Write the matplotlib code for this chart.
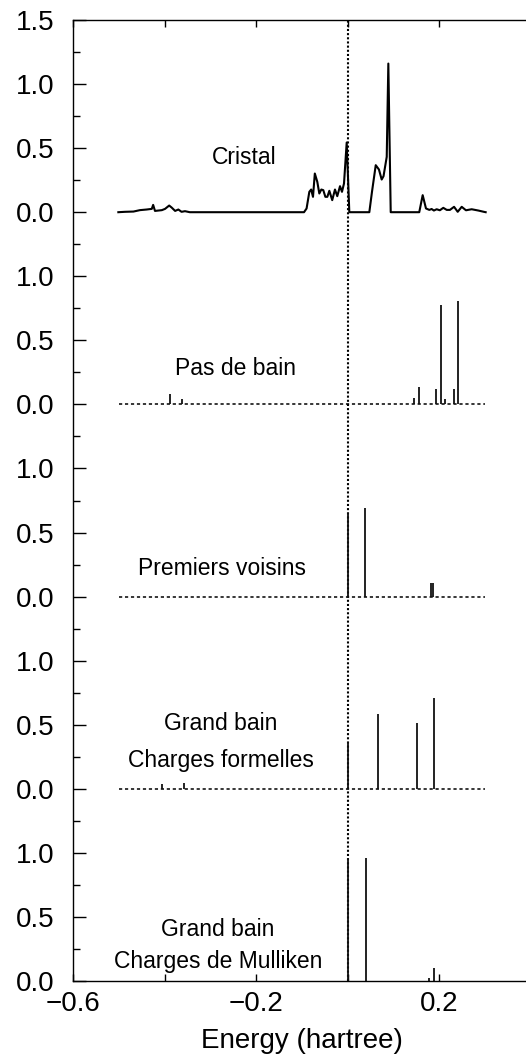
import numpy as np
import matplotlib.pyplot as plt
from matplotlib.ticker import FixedLocator, FixedFormatter

plt.rcParams['font.family'] = ['Liberation Sans', 'DejaVu Sans']
plt.rcParams['lines.scale_dashes'] = False

# Density of states of the crystal (energy in hartree, DOS)
cristal_e = [-0.501, -0.4865, -0.468, -0.454, -0.439, -0.428, -0.425, -0.421, -0.406,
             -0.399, -0.390, -0.3845, -0.377, -0.370, -0.363, -0.3555, -0.345,
             -0.0956, -0.090, -0.084, -0.080, -0.076, -0.072, -0.0666, -0.0622,
             -0.0578, -0.0535, -0.049, -0.0447, -0.0403, -0.034, -0.028, -0.023,
             -0.017, -0.0127, -0.0083, -0.0024, 0.0033,
             0.047, 0.0528, 0.061, 0.068, 0.074, 0.078, 0.085, 0.0885, 0.0937,
             0.156, 0.1635, 0.1707, 0.178, 0.183, 0.188, 0.194, 0.201, 0.2085,
             0.216, 0.223, 0.232, 0.240, 0.2487, 0.258, 0.2705, 0.285, 0.297, 0.301]
cristal_dos = [0.0, 0.003, 0.005, 0.016, 0.021, 0.026, 0.057, 0.010, 0.016,
               0.026, 0.052, 0.036, 0.010, 0.021, 0.003, 0.008, 0.0,
               0.0, 0.029, 0.159, 0.177, 0.120, 0.302, 0.237, 0.146,
               0.177, 0.172, 0.120, 0.120, 0.167, 0.094, 0.177, 0.125,
               0.203, 0.159, 0.224, 0.544, 0.0,
               0.0, 0.159, 0.367, 0.333, 0.255, 0.281, 0.432, 1.16, 0.0,
               0.0, 0.133, 0.029, 0.018, 0.025, 0.013, 0.023, 0.015, 0.034,
               0.018, 0.018, 0.042, 0.003, 0.042, 0.015, 0.023, 0.013, 0.003, 0.0]

# Cluster levels (stick spectra)
pas_de_bain_e = [-0.388, -0.363, 0.145, 0.155, 0.192, 0.204, 0.213, 0.2326, 0.240]
pas_de_bain_w = [0.078, 0.042, 0.050, 0.133, 0.122, 0.773, 0.040, 0.120, 0.805]

voisins_e = [0.0, 0.0376, 0.181, 0.185]
voisins_w = [0.654, 0.690, 0.105, 0.105]

formelles_e = [-0.406, -0.357, 0.0, 0.065, 0.152, 0.189]
formelles_w = [0.040, 0.042, 0.365, 0.580, 0.513, 0.711]

mulliken_e = [0.0, 0.0405, 0.177, 0.188]
mulliken_w = [0.963, 0.963, 0.023, 0.100]

offsets = [6.0, 4.5, 3.0, 1.5, 0.0]
FERMI = 0.0
E_MIN, E_MAX = -0.5, 0.3

fig = plt.figure(figsize=(5.26, 10.63), dpi=100)
ax = fig.add_axes([73 / 526, 82 / 1063, 458 / 526, 961 / 1063])

ax.axvline(FERMI, color='k', lw=1.5, ls=(0, (1.5, 1.5)), zorder=1)

# crystal DOS
ax.plot(cristal_e, np.array(cristal_dos) + offsets[0], color='k', lw=1.5, zorder=3)

sticks = [(pas_de_bain_e, pas_de_bain_w), (voisins_e, voisins_w),
          (formelles_e, formelles_w), (mulliken_e, mulliken_w)]
for (e, w), base in zip(sticks, offsets[1:]):
    if base > 0:
        ax.plot([E_MIN, E_MAX], [base, base], color='k', lw=1.1,
                ls=(0, (2.3, 2.0)), zorder=1)
    ax.vlines(e, base, base + np.array(w), color='#111111', lw=1.3, zorder=2)

labels = [
    (-0.227, offsets[0] + 0.43, 'Cristal'),
    (-0.245, offsets[1] + 0.284, 'Pas de bain'),
    (-0.275, offsets[2] + 0.216, 'Premiers voisins'),
    (-0.277, offsets[3] + 0.51, 'Grand bain'),
    (-0.277, offsets[3] + 0.224, 'Charges formelles'),
    (-0.284, offsets[4] + 0.40, 'Grand bain'),
    (-0.284, offsets[4] + 0.15, 'Charges de Mulliken'),
]
for x, y, s in labels:
    ax.text(x, y, s, ha='center', va='center', fontsize=16.5)

ax.set_xlim(-0.6, 0.4)
ax.set_ylim(0, 7.5)

ax.xaxis.set_major_locator(FixedLocator([-0.6, -0.2, 0.2]))
ax.xaxis.set_minor_locator(FixedLocator([-0.4, 0.0, 0.4]))
ax.tick_params(axis='x', which='both', direction='in', top=True, length=5,
               width=1, labelsize=20, pad=7)

yt = np.arange(0, 7.51, 0.5)
ylab = ['%.1f' % (v % 1.5) for v in yt]
ylab[-1] = '1.5'
ax.yaxis.set_major_locator(FixedLocator(yt))
ax.yaxis.set_major_formatter(FixedFormatter(ylab))
ax.yaxis.set_minor_locator(FixedLocator(np.arange(0.25, 7.5, 0.5)))
ax.tick_params(axis='y', which='major', direction='in', length=9, width=1,
               labelsize=20, pad=13)
ax.tick_params(axis='y', which='minor', direction='in', length=5, width=1)

for sp in ax.spines.values():
    sp.set_linewidth(1.0)

ax.set_xlabel('Energy (hartree)', fontsize=20, labelpad=8)

fig.savefig('out.png', dpi=100)
